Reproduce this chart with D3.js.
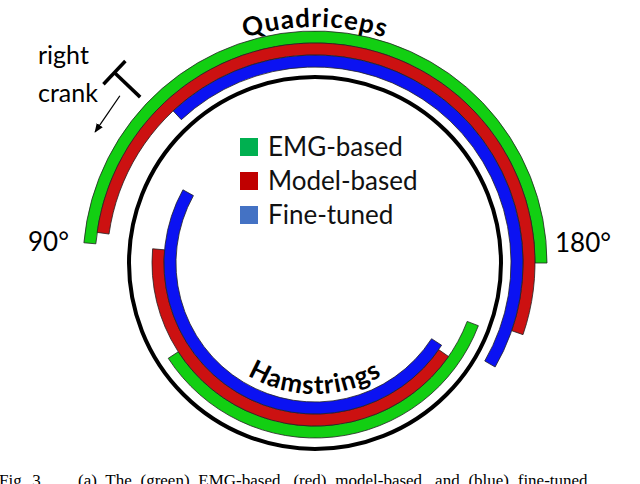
<!DOCTYPE html>
<html>
<head>
<meta charset="utf-8">
<script src="https://cdn.jsdelivr.net/npm/d3@7"></script>
<style>
body { margin: 0; background: #fff; }
</style>
</head>
<body>
<div id="chart"></div>
<script>
const series = ["EMG-based", "Model-based", "Fine-tuned"];
const arcColors = ["#12cf12", "#cc1111", "#0b12f2"];
const legendColors = ["#00b050", "#c00000", "#4472c4"];
// start / end of each activity arc, degrees clockwise from the top of the circle
const quadStart = [-85, -82, -43];
const quadEnd = [90, 109, 120];
const hamStart = [111, 125, 123];
const hamEnd = [237, 275, 299];
const angleLabels = ["90°", "180°"];
const groupLabels = ["Quadriceps", "Hamstrings"];

const width = 640, height = 484;
const cx = 315, cy = 263, r = 186;
const band = 12;

const svg = d3.select("#chart").append("svg")
	.attr("width", width)
	.attr("height", height)
	.style("background", "#fff");

const rad = d3.scaleLinear().domain([0, 360]).range([0, 2 * Math.PI]);
const g = svg.append("g").attr("transform", "translate(" + cx + "," + cy + ")");

function polar(a, rr) {
	return [rr * Math.sin(rad(a)), -rr * Math.cos(rad(a))];
}

// black crank circle
g.append("circle")
	.attr("r", r)
	.attr("fill", "none")
	.attr("stroke", "#000")
	.attr("stroke-width", 4);

// quadriceps arcs outside the circle, green outermost
const quadArc = d3.arc()
	.innerRadius((d, i) => r + 10 + (2 - i) * band)
	.outerRadius((d, i) => r + 10 + (3 - i) * band)
	.startAngle((d, i) => rad(quadStart[i]))
	.endAngle((d, i) => rad(quadEnd[i]));

g.selectAll("path.quad")
	.data(series)
	.enter().append("path")
	.attr("class", "quad")
	.attr("d", quadArc)
	.attr("fill", (d, i) => arcColors[i])
	.attr("stroke", "#222")
	.attr("stroke-width", 0.8);

// hamstrings arcs inside the circle, green closest to it
const hamArc = d3.arc()
	.innerRadius((d, i) => r - 11 - (i + 1) * band)
	.outerRadius((d, i) => r - 11 - i * band)
	.startAngle((d, i) => rad(hamStart[i]))
	.endAngle((d, i) => rad(hamEnd[i]));

g.selectAll("path.ham")
	.data(series)
	.enter().append("path")
	.attr("class", "ham")
	.attr("d", hamArc)
	.attr("fill", (d, i) => arcColors[i])
	.attr("stroke", "#222")
	.attr("stroke-width", 0.8);

// curved group labels
const defs = svg.append("defs");
const rq = 236, rh = 131;
let p0 = polar(-50, rq), p1 = polar(50, rq);
defs.append("path").attr("id", "quadPath")
	.attr("d", "M" + p0 + " A" + rq + "," + rq + " 0 0 1 " + p1);
p0 = polar(240, rh); p1 = polar(120, rh);
defs.append("path").attr("id", "hamPath")
	.attr("d", "M" + p0 + " A" + rh + "," + rh + " 0 0 0 " + p1);

["quadPath", "hamPath"].forEach(function (id, i) {
	g.append("text")
		.attr("font-family", "Lato, sans-serif")
		.attr("font-weight", 700)
		.attr("font-size", 26)
		.attr("letter-spacing", 1)
		.attr("fill", "#000")
		.append("textPath")
		.attr("href", "#" + id)
		.attr("startOffset", "50%")
		.attr("text-anchor", "middle")
		.text(groupLabels[i]);
});

// right crank symbol
const crankA = -46.5;
const s0 = polar(crankA, 241), s1 = polar(crankA, 277);
const b0 = polar(crankA - 3.3, 277), b1 = polar(crankA + 3.3, 277);
g.append("line").attr("x1", s0[0]).attr("y1", s0[1]).attr("x2", s1[0]).attr("y2", s1[1])
	.attr("stroke", "#000").attr("stroke-width", 3.5);
g.append("line").attr("x1", b0[0]).attr("y1", b0[1]).attr("x2", b1[0]).attr("y2", b1[1])
	.attr("stroke", "#000").attr("stroke-width", 3.5);

defs.append("marker").attr("id", "head")
	.attr("viewBox", "0 0 10 10").attr("refX", 9).attr("refY", 5)
	.attr("markerWidth", 7).attr("markerHeight", 7).attr("orient", "auto")
	.append("path").attr("d", "M0,1 L10,5 L0,9 Z").attr("fill", "#000");

const a0 = polar(-49.4, 257), a1 = polar(-59.2, 256);
g.append("line").attr("x1", a0[0]).attr("y1", a0[1]).attr("x2", a1[0]).attr("y2", a1[1])
	.attr("stroke", "#000").attr("stroke-width", 1.3)
	.attr("marker-end", "url(#head)");

svg.append("text").attr("x", 38).attr("y", 64).text("right")
	.attr("font-family", "Lato, sans-serif").attr("font-size", 25);
svg.append("text").attr("x", 38).attr("y", 102).text("crank")
	.attr("font-family", "Lato, sans-serif").attr("font-size", 25);

// angle labels
svg.append("text").attr("x", 28).attr("y", 251).text(angleLabels[0])
	.attr("font-family", "Lato, sans-serif").attr("font-size", 26);
svg.append("text").attr("x", 555).attr("y", 252).text(angleLabels[1])
	.attr("font-family", "Lato, sans-serif").attr("font-size", 26);

// legend
const legend = svg.append("g").attr("transform", "translate(240,138)");
const row = d3.scaleBand().domain(series).range([0, 102]);
const item = legend.selectAll("g")
	.data(series)
	.enter().append("g")
	.attr("transform", d => "translate(0," + row(d) + ")");
item.append("rect")
	.attr("width", 18).attr("height", 18)
	.attr("fill", (d, i) => legendColors[i]);
item.append("text")
	.attr("x", 28).attr("y", 18)
	.attr("font-family", "Lato, sans-serif")
	.attr("font-size", 26)
	.attr("fill", "#111")
	.text(d => d);

// caption, cut off by the bottom edge as in the source
svg.append("text").attr("x", -1).attr("y", 486)
	.attr("font-family", "Liberation Serif, serif").attr("font-size", 17)
	.attr("word-spacing", 2)
	.text("Fig. 3.");
svg.append("text").attr("x", 78).attr("y", 486)
	.attr("font-family", "Liberation Serif, serif").attr("font-size", 17)
	.attr("word-spacing", 4.5)
	.text("(a) The (green) EMG-based, (red) model-based, and (blue) fine-tuned");
</script>
</body>
</html>
